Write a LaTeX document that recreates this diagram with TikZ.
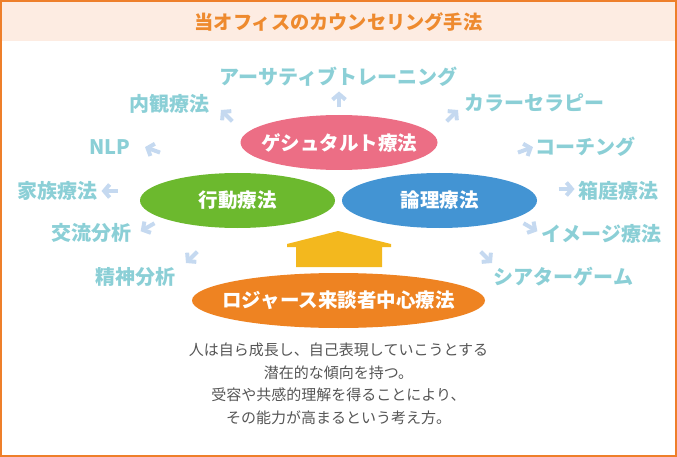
\documentclass[tikz,border=0pt]{standalone}
\usepackage{fontspec}
\setmainfont{Noto Sans CJK JP}
\usetikzlibrary{shapes.geometric,arrows.meta}
\definecolor{frameorange}{HTML}{EE7F2A}
\definecolor{headbg}{HTML}{FDECE2}
\definecolor{titleorange}{HTML}{EE8A2E}
\definecolor{labelteal}{HTML}{8BCFD6}
\definecolor{arrowblue}{HTML}{C5D9F0}
\definecolor{gestaltpink}{HTML}{EC6E85}
\definecolor{behavegreen}{HTML}{6CB92E}
\definecolor{logicblue}{HTML}{4394D3}
\definecolor{rogersorange}{HTML}{EE8322}
\definecolor{houseyellow}{HTML}{F3B81E}
\definecolor{bodygray}{HTML}{555555}
\begin{document}
\begin{tikzpicture}[x=1pt, y=-1pt,
    ell/.style={ellipse, inner sep=-25pt, text=white, minimum height=55pt,
      font=\fontsize{19.5}{19.5}\selectfont\bfseries},
    lbl/.style={inner sep=0pt, text=labelteal,
      font=\fontsize{20}{20}\selectfont\bfseries},
    arr/.style={draw=arrowblue, line width=4pt,
      -{Straight Barb[length=5.5pt, width=13pt]}}]
    \useasboundingbox (0,0) rectangle (677,457);
    % header band and frame
    \fill[headbg] (0,0) rectangle (677,41);
    \node[inner sep=0pt, text=titleorange, font=\fontsize{19.2}{19.2}\selectfont\bfseries]
      (title) at (338.5,22) {当オフィスのカウンセリング手法};
    \draw[frameorange, line width=1.6pt] (0.8,0.8) rectangle (676.2,456.2);
    % the four approaches
    \node[ell, fill=gestaltpink, minimum width=197pt] (gestalt) at (339,142.5) {ゲシュタルト療法};
    \node[ell, fill=behavegreen, minimum width=195pt] (behave) at (237.5,200.5) {行動療法};
    \node[ell, fill=logicblue, minimum width=195pt] (logic) at (439.5,200.5) {論理療法};
    \node[ell, fill=rogersorange, minimum width=293pt] (rogers) at (338.5,300.5) {ロジャース来談者中心療法};
    % house arrow
    \fill[houseyellow] (338,231) -- (391,244) -- (391,247) -- (382,247) -- (382,267)
      -- (296,267) -- (296,247) -- (287,247) -- (287,244) -- cycle;
    % methods around
    \node[lbl] (assert) at (338.5,77) {アーサティブトレーニング};
    \node[lbl] (naikan) at (169,104) {内観療法};
    \node[lbl] (color) at (534,103) {カラーセラピー};
    \node[lbl] (nlp) at (110,147) {NLP};
    \node[lbl] (coach) at (585.5,147) {コーチング};
    \node[lbl] (family) at (57.5,191) {家族療法};
    \node[lbl] (sand) at (618.5,191) {箱庭療法};
    \node[lbl] (transact) at (91,233) {交流分析};
    \node[lbl] (image) at (601.5,234) {イメージ療法};
    \node[lbl] (psycho) at (135,277) {精神分析};
    \node[lbl] (theater) at (563.5,277) {シアターゲーム};
    % small arrows (y runs downwards, so angles are mirrored)
    \foreach \nm/\px/\py/\ang in {up/339/100/-90, nw/227/116/-135, ne/452/116/-45,
        wnw/153/150/-160, ene/525/150/-20, w/110/191/180, e/566/189/0,
        wsw/148/227/150, ese/530/227/30, sw/192/257/135, se/486/257/45} {
      \coordinate (\nm) at (\px,\py);
      \draw[arr] ([shift={(\ang+180:7.5)}]\nm) -- ([shift={(\ang:8.5)}]\nm);
    }
    % explanation
    \node[inner sep=0pt, text=bodygray, align=center,
      font=\fontsize{15}{22.5}\selectfont] (desc) at (338.5,384)
      {人は自ら成長し、自己表現していこうとする\\潜在的な傾向を持つ。\\受容や共感的理解を得ることにより、\\その能力が高まるという考え方。};
\end{tikzpicture}
\end{document}
